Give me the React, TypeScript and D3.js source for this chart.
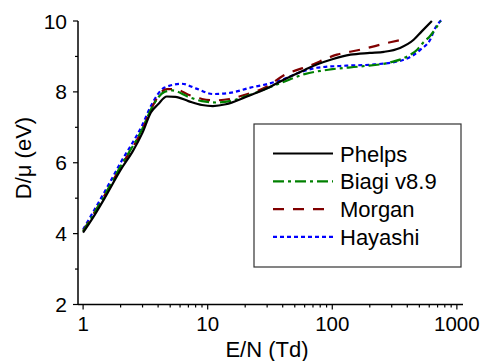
import React from "react";
import * as d3 from "d3";

const W = 483;
const H = 361;

const phelpsE = [1, 1.2, 1.5, 2, 2.5, 3, 3.5, 4, 4.7, 5.5, 7, 9, 11, 14, 20, 30, 40, 60, 75, 100, 140, 200, 260, 350, 450, 520, 630];
const phelpsD = [4.03, 4.45, 5.02, 5.8, 6.32, 6.85, 7.42, 7.65, 7.87, 7.86, 7.74, 7.63, 7.6, 7.65, 7.85, 8.1, 8.33, 8.62, 8.77, 8.92, 9.05, 9.1, 9.13, 9.24, 9.47, 9.7, 10.0];

const biagiE = [1, 1.5, 2, 3, 3.5, 4.5, 5.2, 7, 9, 12, 16, 22, 30, 40, 60, 100, 170, 290, 400, 480, 540, 600, 740];
const biagiD = [4.06, 5.1, 5.9, 6.97, 7.5, 8.0, 8.04, 7.86, 7.74, 7.7, 7.76, 7.92, 8.1, 8.27, 8.5, 8.64, 8.72, 8.83, 9.0, 9.19, 9.4, 9.55, 10.0];

const morganE = [1, 1.5, 2, 3, 3.5, 4.7, 5.5, 7, 9, 11.5, 15, 20, 30, 40, 66, 109, 168, 292, 350];
const morganD = [4.08, 5.1, 5.88, 6.95, 7.5, 8.08, 8.08, 7.92, 7.8, 7.76, 7.8, 7.92, 8.15, 8.45, 8.74, 9.05, 9.19, 9.4, 9.46];

const hayashiE = [1, 1.5, 2, 3, 3.5, 4.5, 6.2, 8, 11, 15, 22, 30, 40, 55, 75, 130, 210, 370, 510, 610, 670, 760];
const hayashiD = [4.12, 5.2, 6.0, 7.08, 7.6, 8.12, 8.23, 8.1, 7.94, 7.97, 8.12, 8.22, 8.35, 8.55, 8.68, 8.74, 8.77, 8.9, 9.19, 9.47, 9.8, 10.04];

const seriesNames = ["Phelps", "Biagi v8.9", "Morgan", "Hayashi"];
const seriesColors = ["#000000", "#008000", "#800000", "#0000ff"];
const seriesDash = ["none", "11 4 3 4", "11 9", "4 3"];

const xMajor = [1, 10, 100, 1000];
const xMajorLabels = ["1", "10", "100", "1000"];
const yMajor = [2, 4, 6, 8, 10];
const yMinor = [3, 5, 7, 9];

const FONT = "'Liberation Sans', Arial, Helvetica, sans-serif";

export default function App() {
  const x = d3.scaleLog().domain([0.91, 1120]).range([78, 463]);
  const y = d3.scaleLinear().domain([2, 10]).range([304.5, 21]);

  const data = [
    phelpsE.map((e, i) => [e, phelpsD[i]]),
    biagiE.map((e, i) => [e, biagiD[i]]),
    morganE.map((e, i) => [e, morganD[i]]),
    hayashiE.map((e, i) => [e, hayashiD[i]]),
  ];

  const line = d3
    .line<number[]>()
    .x((d) => x(d[0]))
    .y((d) => y(d[1]))
    .curve(d3.curveMonotoneX);

  const xMinor: number[] = [];
  for (let k = 0; k < 3; k++) {
    for (let m = 2; m <= 9; m++) xMinor.push(m * Math.pow(10, k));
  }

  const x0 = x.range()[0];
  const x1 = x.range()[1];
  const yB = y(2);

  const legX = 254;
  const legY = 124;
  const legW = 207;
  const legH = 143;
  const baselines = [161.5, 189.3, 217.1, 244.9];

  const drawOrder = [3, 2, 1, 0];

  return (
    <svg
      width={W}
      height={H}
      style={{ position: "absolute", left: 0, top: 0, background: "#fff" }}
      fontFamily={FONT}
    >
      <rect x={0} y={0} width={W} height={H} fill="#fff" />
      {drawOrder.map((i) => (
        <path
          key={i}
          d={line(data[i] as number[][]) || ""}
          fill="none"
          stroke={seriesColors[i]}
          strokeWidth={2.2}
          strokeDasharray={seriesDash[i]}
        />
      ))}
      {/* axes */}
      <line x1={x0} x2={x1} y1={yB} y2={yB} stroke="#000" strokeWidth={1.5} />
      <line x1={x0} x2={x0} y1={y(10)} y2={yB} stroke="#000" strokeWidth={1.5} />
      {xMajor.map((v, i) => (
        <g key={"xm" + v}>
          <line x1={x(v)} x2={x(v)} y1={yB} y2={yB + 5} stroke="#000" strokeWidth={1.2} />
          <text x={x(v)} y={330.5} fontSize={20.5} textAnchor="middle" fill="#000">
            {xMajorLabels[i]}
          </text>
        </g>
      ))}
      {xMinor.map((v) => (
        <line key={"xn" + v} x1={x(v)} x2={x(v)} y1={yB} y2={yB + 3} stroke="#000" strokeWidth={1.2} />
      ))}
      {yMajor.map((v) => (
        <g key={"ym" + v}>
          <line x1={x0 - 5} x2={x0} y1={y(v)} y2={y(v)} stroke="#000" strokeWidth={1.2} />
          <text x={x0 - 11} y={y(v) + 7.5} fontSize={21} textAnchor="end" fill="#000">
            {v}
          </text>
        </g>
      ))}
      {yMinor.map((v) => (
        <line key={"yn" + v} x1={x0 - 3} x2={x0} y1={y(v)} y2={y(v)} stroke="#000" strokeWidth={1.2} />
      ))}
      <text x={267} y={357} fontSize={22} textAnchor="middle" fill="#000">
        E/N (Td)
      </text>
      <text
        transform={`translate(31,158) rotate(-90)`}
        fontSize={22}
        textAnchor="middle"
        fill="#000"
      >
        D/μ (eV)
      </text>
      {/* legend */}
      <rect x={legX} y={legY} width={legW} height={legH} fill="#fff" stroke="#333" strokeWidth={1.2} />
      {seriesNames.map((name, i) => (
        <g key={name}>
          <line
            x1={273}
            x2={333}
            y1={baselines[i] - 8}
            y2={baselines[i] - 8}
            stroke={seriesColors[i]}
            strokeWidth={2.2}
            strokeDasharray={seriesDash[i]}
          />
          <text x={340} y={baselines[i]} fontSize={22} fill="#000">
            {name}
          </text>
        </g>
      ))}
    </svg>
  );
}
